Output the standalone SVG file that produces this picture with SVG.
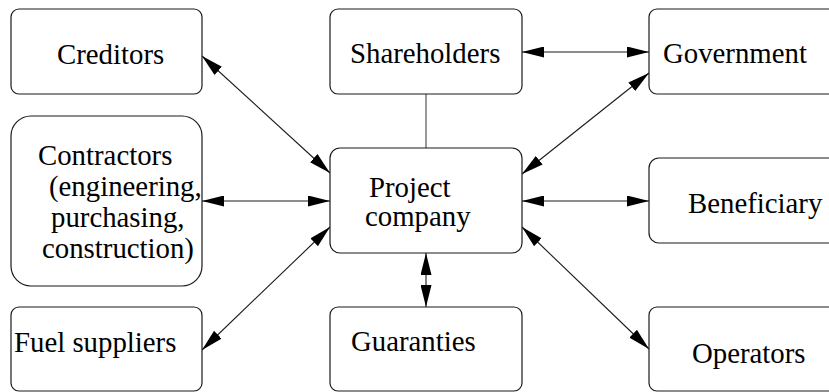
<svg xmlns="http://www.w3.org/2000/svg" width="829" height="392" viewBox="0 0 829 392">
  <style>
    .box { fill: #ffffff; stroke: #1a1a1a; stroke-width: 1.2; }
    .edge { stroke: #1a1a1a; stroke-width: 1.1; fill: none; }
    .plain { stroke: #444444; stroke-width: 1.1; fill: none; }
  </style>
  <defs>
    <marker id="head" markerUnits="userSpaceOnUse" markerWidth="22" markerHeight="11" refX="22" refY="5.5" orient="auto-start-reverse">
      <path d="M0,0 L22,5.5 L0,11 z" fill="#000000"/>
    </marker>
  </defs>
  <rect width="829" height="392" fill="#ffffff"/>

  <!-- connectors -->
  <g id="connectors">
    <line class="edge" x1="202" y1="56" x2="330" y2="173" marker-start="url(#head)" marker-end="url(#head)"/>
    <line class="edge" x1="522" y1="52" x2="649" y2="52" marker-start="url(#head)" marker-end="url(#head)"/>
    <line class="plain" x1="426" y1="94" x2="426" y2="148"/>
    <line class="edge" x1="649" y1="73" x2="522" y2="174" marker-start="url(#head)" marker-end="url(#head)"/>
    <line class="edge" x1="202" y1="201" x2="330" y2="201" marker-start="url(#head)" marker-end="url(#head)"/>
    <line class="edge" x1="522" y1="201" x2="649" y2="201" marker-start="url(#head)" marker-end="url(#head)"/>
    <line class="edge" x1="202" y1="350" x2="330" y2="227" marker-start="url(#head)" marker-end="url(#head)"/>
    <line class="edge" x1="426" y1="253" x2="426" y2="307" marker-start="url(#head)" marker-end="url(#head)"/>
    <line class="edge" x1="522" y1="227" x2="649" y2="349" marker-start="url(#head)" marker-end="url(#head)"/>
  </g>

  <!-- nodes; all labels share one serif face -->
  <g font-family="Liberation Serif, Times New Roman, serif" font-size="28.8" fill="#000000">
    <g id="creditors">
      <rect class="box" x="11" y="9" width="191" height="85" rx="8"/>
      <text x="57" y="64">Creditors</text>
    </g>
    <g id="shareholders">
      <rect class="box" x="330" y="9" width="192" height="85" rx="8"/>
      <text x="350" y="63">Shareholders</text>
    </g>
    <g id="government">
      <rect class="box" x="649" y="9" width="200" height="85" rx="8"/>
      <text x="663" y="63">Government</text>
    </g>
    <g id="contractors">
      <rect class="box" x="11" y="116" width="191" height="170" rx="20"/>
      <text x="38" y="165">Contractors</text>
      <text x="49" y="196">(engineering,</text>
      <text x="51" y="227">purchasing,</text>
      <text x="42" y="258">construction)</text>
    </g>
    <g id="project-company">
      <rect class="box" x="330" y="148" width="192" height="105" rx="10"/>
      <text x="369" y="197">Project</text>
      <text x="365" y="226">company</text>
    </g>
    <g id="beneficiary">
      <rect class="box" x="649" y="158" width="200" height="85" rx="10"/>
      <text x="688" y="213">Beneficiary</text>
    </g>
    <g id="fuel-suppliers">
      <rect class="box" x="11" y="307" width="191" height="84" rx="8"/>
      <text x="14" y="352">Fuel suppliers</text>
    </g>
    <g id="guaranties">
      <rect class="box" x="330" y="307" width="192" height="84" rx="8"/>
      <text x="351" y="351">Guaranties</text>
    </g>
    <g id="operators">
      <rect class="box" x="649" y="307" width="200" height="84" rx="8"/>
      <text x="692" y="363">Operators</text>
    </g>
  </g>
</svg>
